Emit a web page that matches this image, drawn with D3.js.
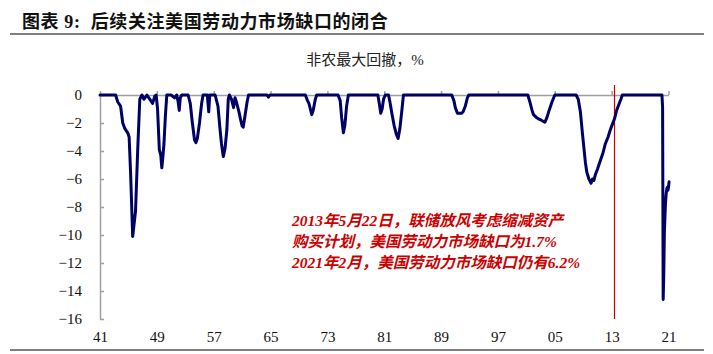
<!DOCTYPE html>
<html>
<head>
<meta charset="utf-8">
<script src="https://cdn.jsdelivr.net/npm/d3@7"></script>
<style>
body { margin: 0; background: #fff; }
svg { display: block; }
</style>
</head>
<body>
<svg id="chart" width="713" height="354"></svg>
<script>
// 非农最大回撤 (%)
var years = [
	1941.0, 1943.2, 1943.5, 1943.9, 1944.2, 1944.5, 1944.9, 1945.1, 1945.3, 1945.6,
	1945.8, 1946.0, 1946.3, 1946.6, 1946.9, 1947.2, 1947.6, 1948.0, 1948.4, 1948.7,
	1948.9, 1949.1, 1949.35, 1949.55, 1949.7, 1949.85, 1950.0, 1950.2, 1950.4, 1951.0,
	1951.5, 1951.8, 1952.0, 1952.15, 1952.3, 1952.5, 1953.4, 1953.7, 1954.0, 1954.3,
	1954.5, 1954.7, 1955.0, 1955.3, 1955.5, 1956.1, 1956.3, 1956.45, 1957.2, 1957.6,
	1957.9, 1958.1, 1958.35, 1958.6, 1958.85, 1959.05, 1959.2, 1959.5, 1959.8, 1960.0,
	1960.2, 1960.4, 1960.6, 1960.8, 1961.0, 1961.15, 1961.4, 1961.7, 1961.9, 1964.5,
	1964.7, 1964.9, 1969.9, 1970.2, 1970.4, 1970.6, 1970.8, 1971.0, 1971.3, 1971.5,
	1974.5, 1974.8, 1975.0, 1975.25, 1975.45, 1975.7, 1975.95, 1980.1, 1980.3, 1980.5,
	1980.7, 1980.9, 1981.15, 1981.6, 1981.8, 1982.1, 1982.4, 1982.7, 1982.95, 1983.2,
	1983.5, 1983.7, 1990.5, 1990.8, 1991.0, 1991.3, 1991.6, 1991.9, 1992.1, 1992.4,
	1992.7, 1992.9, 2001.2, 2001.5, 2001.8, 2002.0, 2002.4, 2002.7, 2003.1, 2003.6,
	2003.9, 2004.2, 2004.6, 2005.0, 2008.0, 2008.3, 2008.6, 2008.9, 2009.1, 2009.3,
	2009.5, 2009.8, 2010.1, 2010.3, 2010.5, 2010.7, 2011.0, 2011.4, 2011.8, 2012.1,
	2012.5, 2012.8, 2013.1, 2013.4, 2013.7, 2014.0, 2014.3, 2014.5, 2020.0, 2020.08,
	2020.17, 2020.25, 2020.33, 2020.42, 2020.5, 2020.58, 2020.67, 2020.75, 2020.83, 2020.92,
	2021.0, 2021.08
];
var drawdown = [
	0, 0, -0.5, -0.8, -2.0, -2.4, -2.7, -3.0, -5.5, -10.1,
	-9.2, -8.3, -4.0, -0.3, 0, -0.3, 0, -0.3, -0.6, -0.1,
	0, -1.0, -3.9, -4.3, -5.2, -4.4, -3.5, -1.5, 0, 0,
	-0.2, 0, -0.5, -1.1, -0.2, 0, 0, -0.6, -2.0, -3.2,
	-3.4, -3.1, -2.0, -0.6, 0, 0, -1.2, 0, 0, -0.8,
	-2.5, -3.5, -4.4, -3.8, -2.5, -0.3, 0, -0.3, -0.9, -0.2,
	-0.5, -0.9, -1.3, -1.8, -2.2, -2.3, -1.5, -0.5, 0, 0,
	-0.15, 0, 0, -0.4, -0.6, -1.0, -1.4, -1.1, -0.3, 0,
	0, -0.4, -1.6, -2.7, -2.2, -0.8, 0, 0, -0.6, -1.3,
	-1.0, -0.3, 0, 0, -0.5, -1.4, -2.2, -2.8, -3.1, -2.4,
	-1.0, 0, 0, -0.4, -0.9, -1.3, -1.3, -1.3, -1.2, -0.8,
	-0.2, 0, 0, -0.5, -1.1, -1.4, -1.6, -1.7, -1.8, -1.95,
	-1.6, -1.1, -0.5, 0, 0, -0.3, -1.2, -2.8, -3.8, -4.8,
	-5.5, -6.0, -6.3, -6.0, -6.1, -5.7, -5.3, -4.7, -4.1, -3.5,
	-3.0, -2.5, -2.1, -1.7, -1.1, -0.7, -0.3, 0, 0, 0,
	-0.9, -14.6, -12.9, -9.8, -8.7, -7.7, -7.1, -6.7, -6.6, -6.8,
	-6.6, -6.2
];

var xTickYears = [1941, 1949, 1957, 1965, 1973, 1981, 1989, 1997, 2005, 2013, 2021];
var xTickLabels = ["41", "49", "57", "65", "73", "81", "89", "97", "05", "13", "21"];
var yTicks = [0, -2, -4, -6, -8, -10, -12, -14, -16];

var titleText = "图表 9:  后续关注美国劳动力市场缺口的闭合";
var seriesName = "非农最大回撤，%";
var markYear = 2013.4;
var noteLines = [
	"2013年5月22日，联储放风考虑缩减资产",
	"购买计划，美国劳动力市场缺口为1.7%",
	"2021年2月，美国劳动力市场缺口仍有6.2%"
];

var serif = "'Liberation Serif', 'Times New Roman', 'Noto Sans CJK SC', serif";

var svg = d3.select("#chart");

var x = d3.scaleLinear()
	.domain([1941, 2021])
	.range([100, 668.5]);

var y = d3.scaleLinear()
	.domain([-16, 0])
	.range([319, 95]);

// title + rules
svg.append("text")
	.attr("x", 22)
	.attr("y", 28)
	.style("font-family", "'Liberation Serif', 'Noto Sans CJK SC', serif")
	.style("font-weight", "bold")
	.style("font-size", "18px")
	.style("letter-spacing", "0.6px")
	.style("white-space", "pre")
	.attr("fill", "#111")
	.text(titleText);

svg.append("line")
	.attr("x1", 10).attr("x2", 704)
	.attr("y1", 34).attr("y2", 34)
	.attr("stroke", "#555")
	.attr("stroke-width", 1.5);

svg.append("line")
	.attr("x1", 10).attr("x2", 704)
	.attr("y1", 350).attr("y2", 350)
	.attr("stroke", "#555")
	.attr("stroke-width", 1.5);

svg.append("text")
	.attr("x", 365)
	.attr("y", 65)
	.attr("text-anchor", "middle")
	.style("font-family", serif)
	.style("font-size", "15px")
	.attr("fill", "#222")
	.text(seriesName);

// y axis
var yAxis = svg.append("g")
	.attr("transform", "translate(100,0)")
	.call(d3.axisLeft(y).tickValues(yTicks).tickSize(-4).tickSizeOuter(0).tickPadding(18));
yAxis.selectAll("path, line").attr("stroke", "#a0a0a0").attr("stroke-width", 1.5);
yAxis.selectAll("text")
	.style("font-family", serif)
	.style("font-size", "15px")
	.attr("fill", "#111");

// x axis along zero, ticks pointing up
var xAxis = svg.append("g")
	.attr("transform", "translate(0," + y(0) + ")")
	.call(d3.axisTop(x).tickValues(xTickYears).tickSize(4).tickSizeOuter(0).tickFormat(""));
xAxis.selectAll("path, line").attr("stroke", "#a0a0a0").attr("stroke-width", 1.5);

// x labels at the bottom
var xLabels = svg.append("g")
	.attr("transform", "translate(0,327)")
	.call(d3.axisBottom(x).tickValues(xTickYears).tickSize(0).tickPadding(4)
		.tickFormat(function(d, i) { return xTickLabels[i]; }));
xLabels.select(".domain").remove();
xLabels.selectAll("text")
	.style("font-family", serif)
	.style("font-size", "15px")
	.attr("fill", "#111");

// red marker line
svg.append("line")
	.attr("x1", x(markYear)).attr("x2", x(markYear))
	.attr("y1", 85).attr("y2", y(-16))
	.attr("stroke", "#cc0000")
	.attr("stroke-width", 1.2);

// series
var line = d3.line()
	.x(function(d, i) { return x(years[i]); })
	.y(function(d) { return y(d); });

svg.append("path")
	.datum(drawdown)
	.attr("fill", "none")
	.attr("stroke", "#000066")
	.attr("stroke-width", 3)
	.attr("stroke-linejoin", "round")
	.attr("stroke-linecap", "round")
	.attr("d", line);

// annotation
svg.append("g").selectAll("text")
	.data(noteLines)
	.enter().append("text")
	.attr("x", 292)
	.attr("y", function(d, i) { return 226 + i * 21; })
	.style("font-family", serif)
	.style("font-style", "italic")
	.style("font-weight", "bold")
	.style("font-size", "15.5px")
	.attr("fill", "#cc0000")
	.text(function(d) { return d; });
</script>
</body>
</html>
